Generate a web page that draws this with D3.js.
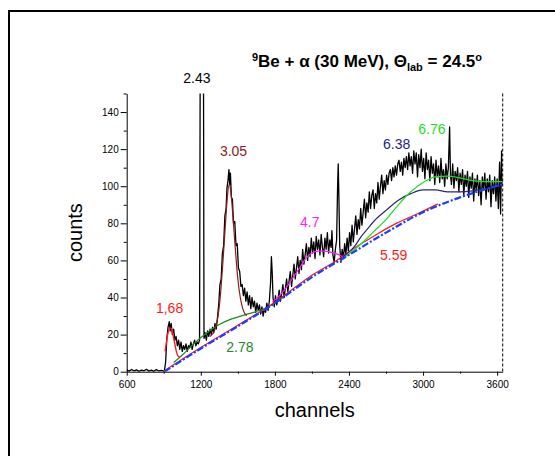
<!DOCTYPE html>
<html><head><meta charset="utf-8">
<script src="https://cdn.jsdelivr.net/npm/d3@7"></script>
<style>
html,body{margin:0;padding:0;background:#fff;}
svg{display:block;font-family:Arial,"Liberation Sans",sans-serif;}
</style>
</head><body>
<script>
// ---------- data ----------
const xTicks = [600, 1200, 1800, 2400, 3000, 3600];
const xMinorTicks = [900, 1500, 2100, 2700, 3300];
const yTicks = [0, 20, 40, 60, 80, 100, 120, 140];
const yMinorTicks = [10, 30, 50, 70, 90, 110, 130, 150];

const specCh = [
600,620,640,660,680,700,720,740,760,780,800,820,840,860,880,900,
905,915,925,935,945,952,960,970,980,990,
1000,1010,1020,1030,1040,1050,1060,1070,1080,1090,1100,1110,1120,1130,1140,1150,1160,1170,1180,1190,
1195,1222,1226,
1235,1245,1255,1265,1275,1285,1295,1305,1315,1325,1335,
1345,1355,1365,1375,1385,1395,1405,
1412,1420,1428,1434,1440,1448,1456,
1465,1475,1485,1495,1505,1515,1525,1535,1545,1555,1565,1575,1585,1595,1605,1615,1625,1635,1645,1655,1665,1675,1685,1695,1705,1715,1725,1735,1745,1755,1765,
1772,1778,
1785,1795,1805,1815,1825,1835,1845,1855,1865,1875,1885,1895,1905,1915,1925,1935,1945,1955,1965,1975,1985,1995,2005,2015,2025,2035,2045,2055,2065,2075,2085,2095,2105,2115,2125,2135,2145,2155,2165,2175,2185,2195,2205,2215,2225,2235,2245,2255,
2262,2270,2280,2290,2300,2308,2313,2318,2325,
2335,2345,2355,2365,2375,2385,2395,2405,2415,2425,2435,2445,2455,2465,2475,2485,2495,2505,2515,2525,2535,2545,2555,2565,2575,2585,2595,
2605,2615,2625,2635,2645,2655,2665,2675,2685,2695,2705,2715,2725,2735,2745,2755,2765,2775,2785,2795,
2805,2815,2825,2835,2845,2855,2865,2875,2885,2895,2905,2915,2925,2935,2945,2955,2965,2975,2985,2995,3005,3015,3025,3035,3045,3055,3065,3075,3085,3095,3105,3115,3125,3135,3145,3155,3165,3175,3185,3195,3205,
3215,3222,
3230,3240,3250,3260,3270,3280,3290,3300,3310,3320,3330,3340,3350,3360,3370,3380,3390,3400,3410,3420,3430,3440,3450,3460,3470,3480,3490,3500,3510,3520,3530,3540,3550,3560,3570,3580,3590,3600,3610,3620,
3628,3636,3640];
const specCounts = [
1,0.3,1.2,0.4,1,0.2,0.9,0.5,1.3,0.3,0.8,0.2,1.1,0.4,0.7,0.3,
0.5,5,18,24,27,22,26,20,23,17,
19,14,17,12,16,11,14,12,15,11,14,13,16,12,15,17,14,16,15,17,
160,160,18,
21,17,22,19,23,20,24,21,26,23,29,
36,47,50,64,68,84,88,
99,103,109,101,107,94,93,
80,81,68,69,56,54,46,47,41,45,38,43,36,41,34,40,35,38,32,37,33,36,31,35,30,34,32,37,33,38,48,
62,54,
40,35,41,36,39,44,38,42,47,40,45,50,43,49,54,46,52,58,50,56,62,53,60,55,66,58,63,69,60,67,62,72,64,70,61,73,66,71,63,74,67,62,72,66,75,64,71,67,
76,63,59,66,71,100,112,96,68,
59,66,61,69,63,72,65,75,68,79,70,77,84,74,82,77,88,79,86,93,83,91,86,97,88,95,98,
88,96,91,102,93,100,106,96,103,98,106,101,107,109,103,110,105,111,106,112,
114,108,113,106,115,110,116,109,118,111,116,107,119,112,118,105,117,110,120,108,115,104,118,109,114,103,116,107,112,101,114,105,111,102,115,104,109,100,112,104,110,
132,106,
101,112,99,108,103,110,97,107,101,109,95,106,100,108,94,105,99,107,92,104,98,106,95,103,90,105,98,107,93,104,97,106,89,103,96,105,92,104,88,113,
85,119,100];

// linear background (blue dash-dot)
const bgCh = [905,1200,1500,1800,2100,2400,2700,3000,3300,3640];
const bgCounts = [0,12.5,24.5,37,51,63,75,86,94,101];

// red background / 5.59 fit
const fit559Ch = [905,1200,1500,1800,2100,2300,2450,2600,2700,2800,2950,3120];
const fit559Counts = [0.5,13,25,37.5,52,60,67,73,77,80.5,85,90.5];

// 1,68 fit
const fit168Ch = [911,922,935,948,960,972,985,1000,1015,1030];
const fit168Counts = [11,16,21,23.5,23.5,21,16.5,11.5,8.5,8];

// 2.78 fit
const fit278Ch = [980,1050,1150,1250,1350,1450,1550,1650,1750,1800];
const fit278Counts = [5,9,15.5,21,25.5,28.5,30.5,32.5,35,37];

// 3.05 fit
const fit305Ch = [1275,1310,1340,1360,1380,1400,1415,1430,1445,1460,1480,1500,1520,1540,1560,1575];
const fit305Counts = [19,22,30,42,60,80,94,101,96,84,66,50,40,34,31,30.5];

// 4.7 fit
const fit47Ch = [1780,1850,1900,1950,2000,2050,2100,2150,2200,2250,2300,2350];
const fit47Counts = [37.5,42,46,51,56,61,64,65,65,64.5,63.5,62];

// 6.38 fit
const fit638Ch = [2350,2400,2450,2500,2550,2600,2700,2800,2900,3000,3100,3200,3300,3400,3500,3640];
const fit638Counts = [62,64.5,68,73,77,81,87,92.5,96,98,98,97,97,97.5,98.5,100.5];

// 6.76 fit
const fit676Ch = [2330,2400,2500,2600,2700,2800,2900,3000,3100,3200,3300,3400,3500,3640];
const fit676Counts = [60,63.5,69,75.5,82,90,97,102,105,105.5,104.5,103,102.5,102.5];

const labelTexts = ["2.43","3.05","1,68","2.78","4.7","6.38","6.76","5.59"];
const labelCh =     [1169, 1465, 947, 1517, 2082, 2786, 3072, 2762];
const labelCounts = [155.6,116.3,31.4,10.6,78,120.3,128.4,60.2];
const labelColors = ["#000000","#8b2020","#ff1a1a","#1f8a1f","#ff1aff","#262680","#1ee01e","#ff1a1a"];

// ---------- drawing ----------
const W = 555, H = 456;
const svg = d3.select("body").append("svg").attr("width", W).attr("height", H);

// outer frame
svg.append("path").attr("d", "M9,456V11H555").attr("fill","none").attr("stroke","#000").attr("stroke-width",2);

const x = d3.scaleLinear().domain([600, 3645]).range([126.7, 502.7]);
const y = d3.scaleLinear().domain([0, 150]).range([371.7, 93.5]);

svg.append("defs").append("clipPath").attr("id","plotclip")
  .append("rect").attr("x", x(600)).attr("y", y(150)).attr("width", x(3645)-x(600)).attr("height", y(0)-y(150));

// right dashed border
svg.append("line").attr("x1", x(3645)).attr("x2", x(3645)).attr("y1", y(150)).attr("y2", y(0))
  .attr("stroke","#000").attr("stroke-width",1).attr("stroke-dasharray","3,2");

// axes
const gx = svg.append("g").attr("transform", `translate(0,${y(0)})`);
gx.call(d3.axisBottom(x).tickValues(xTicks).tickSize(4).tickSizeOuter(0).tickFormat(d3.format("d")));
gx.append("g").call(d3.axisBottom(x).tickValues(xMinorTicks).tickSize(2).tickFormat("")).select(".domain").remove();
gx.selectAll("text").attr("font-size", 10).attr("font-family","Arial,'Liberation Sans',sans-serif").attr("dy","0.9em").attr("fill","#000");

const gy = svg.append("g").attr("transform", `translate(${x(600)},0)`);
gy.call(d3.axisLeft(y).tickValues(yTicks).tickSize(6).tickSizeOuter(0).tickFormat(d3.format("d")));
gy.append("g").call(d3.axisLeft(y).tickValues(yMinorTicks).tickSize(3).tickFormat("")).select(".domain").remove();
gy.selectAll("text").attr("font-size", 10).attr("font-family","Arial,'Liberation Sans',sans-serif").attr("x",-8).attr("fill","#000");
svg.selectAll(".domain").attr("stroke","#000");
svg.selectAll(".tick line").attr("stroke","#000");

const plot = svg.append("g").attr("clip-path","url(#plotclip)");
const line = d3.line().x(d => x(d[0])).y(d => y(d[1]));
const pairs = (a, b) => a.map((v, i) => [v, b[i]]);

plot.append("path").datum(pairs(specCh, specCounts)).attr("d", line)
  .attr("fill","none").attr("stroke","#000").attr("stroke-width",1.3).attr("stroke-linejoin","round");

const smooth = d3.line().x(d => x(d[0])).y(d => y(d[1])).curve(d3.curveMonotoneX);
function fit(ch, ct, color, w) {
  plot.append("path").datum(pairs(ch, ct)).attr("d", smooth)
    .attr("fill","none").attr("stroke", color).attr("stroke-width", w || 1.2);
}
fit(fit278Ch, fit278Counts, "#1f8a1f");
fit(fit559Ch, fit559Counts, "#ff1a1a");
fit(fit168Ch, fit168Counts, "#ff1a1a", 1.4);
fit(fit305Ch, fit305Counts, "#8b1a1a");
fit(fit47Ch, fit47Counts, "#ff1aff");
fit(fit638Ch, fit638Counts, "#262680");
fit(fit676Ch, fit676Counts, "#1ee01e");
plot.append("path").datum(pairs(bgCh, bgCounts)).attr("d", smooth)
  .attr("fill","none").attr("stroke","#1a3cff").attr("stroke-width",2.2).attr("stroke-dasharray","7,2,2,2");

// peak labels
svg.append("g").selectAll("text").data(labelTexts).join("text")
  .attr("x", (d,i) => x(labelCh[i])).attr("y", (d,i) => y(labelCounts[i]))
  .attr("text-anchor","middle").attr("font-size",14).attr("fill",(d,i)=>labelColors[i]).text(d => d);

// axis titles
svg.append("text").attr("x", (x(600)+x(3645))/2).attr("y", 417).attr("text-anchor","middle")
  .attr("font-size",20).text("channels");
svg.append("text").attr("transform", `translate(82,${(y(0)+y(150))/2}) rotate(-90)`).attr("text-anchor","middle")
  .attr("font-size",20).text("counts");

// title
const t = svg.append("text").attr("x", 367).attr("y", 67).attr("text-anchor","middle")
  .attr("font-size",17).attr("font-weight","bold");
t.append("tspan").attr("font-size",11).attr("dy",-6).text("9");
t.append("tspan").attr("dy",6).text("Be + \u03b1 (30 MeV), \u0398");
t.append("tspan").attr("font-size",11).attr("dy",4).text("lab");
t.append("tspan").attr("dy",-4).text(" = 24.5");
t.append("tspan").attr("font-size",11).attr("dy",-6).text("o");
</script>
</body></html>
